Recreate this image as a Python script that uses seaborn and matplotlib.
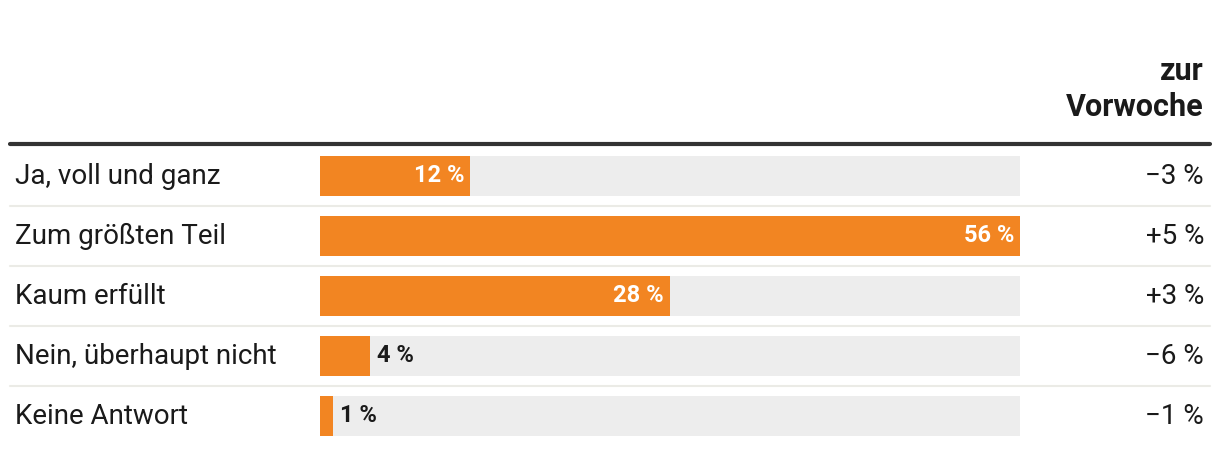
import matplotlib
matplotlib.use("Agg")
import matplotlib.pyplot as plt
import seaborn as sns
import pandas as pd
from matplotlib.lines import Line2D
from matplotlib.transforms import blended_transform_factory

categories = ["Ja, voll und ganz", "Zum größten Teil", "Kaum erfüllt",
              "Nein, überhaupt nicht", "Keine Antwort"]
values = [12, 56, 28, 4, 1]
changes = ["\u22123 %", "+5 %", "+3 %", "\u22126 %", "\u22121 %"]
header = "zur\nVorwoche"

ORANGE = "#f28522"
TRACK = "#ededed"
TEXT = "#1a1a1a"
SEP = "#ebebe6"

sns.set_theme(style="white")
plt.rcParams["font.family"] = ["Roboto", "DejaVu Sans"]

W, H = 1220, 454
fig = plt.figure(figsize=(W / 100, H / 100), dpi=100)
ax = fig.add_axes([320 / W, (H - 446) / H, 700 / W, 300 / H])

df = pd.DataFrame({"cat": categories, "val": values})
vmax = max(values)
df["track"] = vmax

sns.barplot(data=df, y="cat", x="track", color=TRACK, width=2 / 3,
            orient="h", ax=ax, saturation=1, linewidth=0)
sns.barplot(data=df, y="cat", x="val", color=ORANGE, width=2 / 3,
            orient="h", ax=ax, saturation=1, linewidth=0)

ax.set_xlim(0, vmax)
ax.set_ylim(len(categories) - 0.5, -0.5)
ax.set_xlabel("")
ax.set_ylabel("")
ax.set_xticks([])
ax.set_yticks([])
for s in ax.spines.values():
    s.set_visible(False)


def ax_x(px):
    return (px - 320) / 700


tr = blended_transform_factory(ax.transAxes, ax.transData)
tr_fig_x = blended_transform_factory(fig.transFigure, ax.transData)

for i, (cat, v, ch) in enumerate(zip(categories, values, changes)):
    ax.text(15 / W, i, cat, transform=tr_fig_x, ha="left", va="center",
            fontsize=20, color=TEXT)
    ax.text(1204 / W, i, ch, transform=tr_fig_x, ha="right", va="center",
            fontsize=20, color=TEXT)
    lab = f"{v} %"
    if v >= 10:
        ax.annotate(lab, (v, i), xytext=(-6, 0), textcoords="offset pixels",
                    ha="right", va="center", fontsize=17, fontweight="bold",
                    color="white")
    else:
        ax.annotate(lab, (v, i), xytext=(7, 0), textcoords="offset pixels",
                    ha="left", va="center", fontsize=17, fontweight="bold",
                    color=TEXT)
    if i < len(categories) - 1:
        ax.plot([ax_x(10), ax_x(1210)], [i + 0.5, i + 0.5], transform=tr,
                color=SEP, lw=1.5, clip_on=False)

fig.text(1204 / W, (H - 89) / H, header, ha="right", va="center",
         fontsize=22, fontweight="bold", color=TEXT, linespacing=1.25)
fig.add_artist(Line2D([10 / W, 1210 / W], [(H - 144) / H] * 2,
                      transform=fig.transFigure, color="#333333", lw=3))

fig.savefig("out.png", dpi=100)
